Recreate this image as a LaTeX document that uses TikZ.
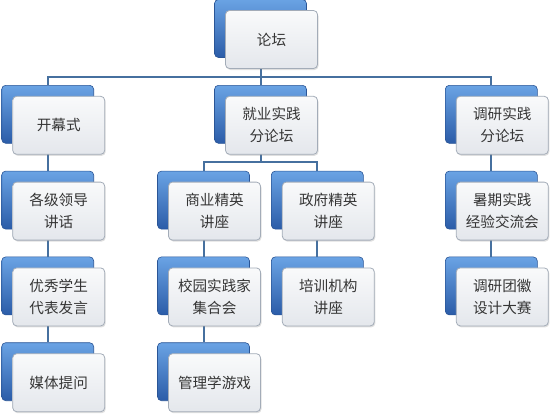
\documentclass[tikz,border=0pt]{standalone}
\usepackage{fontspec}
\setmainfont{Noto Sans CJK SC}
\usetikzlibrary{positioning, shadows, backgrounds}

\definecolor{cardtop}{HTML}{F9FAFB}
\definecolor{cardbot}{HTML}{E4E7EC}
\definecolor{cardedge}{HTML}{A3ACB8}
\definecolor{backtop}{HTML}{6AA3E4}
\definecolor{backbot}{HTML}{2B5CA8}
\definecolor{backedge}{HTML}{2A5596}
\definecolor{linkblue}{HTML}{46709F}
\definecolor{txt}{HTML}{353535}

\begin{document}
\begin{tikzpicture}[x=1pt, y=1pt,
						font=\fontsize{14.6pt}{22pt}\selectfont,
						node distance = 27pt and 21pt, % vertical y horizontal
						card/.style = {rectangle, draw=cardedge, line width=0.8pt, rounded corners=4pt,
										top color=cardtop, bottom color=cardbot, text=txt,
										minimum width=92pt, minimum height=58pt, align=center,
										drop shadow={shadow xshift=1pt, shadow yshift=-1.5pt, opacity=0.25}},
						back/.style = {rectangle, draw=backedge, line width=0.6pt, rounded corners=4pt,
										top color=backtop, bottom color=backbot,
										minimum width=92pt, minimum height=58pt},
						link/.style = {draw=linkblue, line width=2pt}
						]
						\useasboundingbox (0,0) rectangle (550,-416);

						% --- Nivel superior ---
						\node[card] (lt) at (271.5,-39.5) {论坛};

						% --- Primer nivel ---
						\node[card, below=of lt] (jy) {就业实践\\分论坛};
						\node[card, left=120pt of jy] (kms) {开幕式};
						\node[card, right=138pt of jy] (dy) {调研实践\\分论坛};

						% --- Columna izquierda ---
						\node[card, below=of kms] (ldjh) {各级领导\\讲话};
						\node[card, below=of ldjh] (xsfy) {优秀学生\\代表发言};
						\node[card, below=of xsfy] (mttw) {媒体提问};

						% --- Columna central ---
						\node[card, below=of jy, xshift=-57pt] (syjy) {商业精英\\讲座};
						\node[card, right=of syjy] (zfjy) {政府精英\\讲座};
						\node[card, below=of syjy] (xysj) {校园实践家\\集合会};
						\node[card, below=of xysj] (glyx) {管理学游戏};
						\node[card, below=of zfjy] (pxjg) {培训机构\\讲座};

						% --- Columna derecha ---
						\node[card, below=of dy] (sqjl) {暑期实践\\经验交流会};
						\node[card, below=of sqjl] (tdsj) {调研团徽\\设计大赛};

						\begin{scope}[on background layer]
						% --- Bloques azules detras ---
						\node[back] (lt-b) at ([shift={(-11pt,11pt)}]lt.center) {};
						\node[back] (jy-b) at ([shift={(-11pt,11pt)}]jy.center) {};
						\node[back] (kms-b) at ([shift={(-11pt,11pt)}]kms.center) {};
						\node[back] (dy-b) at ([shift={(-11pt,11pt)}]dy.center) {};
						\node[back] (ldjh-b) at ([shift={(-11pt,11pt)}]ldjh.center) {};
						\node[back] (xsfy-b) at ([shift={(-11pt,11pt)}]xsfy.center) {};
						\node[back] (mttw-b) at ([shift={(-11pt,11pt)}]mttw.center) {};
						\node[back] (syjy-b) at ([shift={(-11pt,11pt)}]syjy.center) {};
						\node[back] (zfjy-b) at ([shift={(-11pt,11pt)}]zfjy.center) {};
						\node[back] (xysj-b) at ([shift={(-11pt,11pt)}]xysj.center) {};
						\node[back] (glyx-b) at ([shift={(-11pt,11pt)}]glyx.center) {};
						\node[back] (pxjg-b) at ([shift={(-11pt,11pt)}]pxjg.center) {};
						\node[back] (sqjl-b) at ([shift={(-11pt,11pt)}]sqjl.center) {};
						\node[back] (tdsj-b) at ([shift={(-11pt,11pt)}]tdsj.center) {};

						% --- Conexiones ---
						\draw[link] (lt-b.south) -- ++(0,-19pt) -| (kms-b.north);
						\draw[link] (lt-b.south) -- ++(0,-19pt) -| (dy-b.north);
						\draw[link] (lt-b.south) -- (jy-b.north);

						\draw[link] (kms-b) -- (ldjh-b);
						\draw[link] (ldjh-b) -- (xsfy-b);
						\draw[link] (xsfy-b) -- (mttw-b);

						\draw[link] (jy-b.south) -- ++(0,-18pt) -| (syjy-b.north);
						\draw[link] (jy-b.south) -- ++(0,-18pt) -| (zfjy-b.north);
						\draw[link] (syjy-b) -- (xysj-b);
						\draw[link] (xysj-b) -- (glyx-b);
						\draw[link] (zfjy-b) -- (pxjg-b);

						\draw[link] (dy-b) -- (sqjl-b);
						\draw[link] (sqjl-b) -- (tdsj-b);
						\end{scope}

\end{tikzpicture}
\end{document}
